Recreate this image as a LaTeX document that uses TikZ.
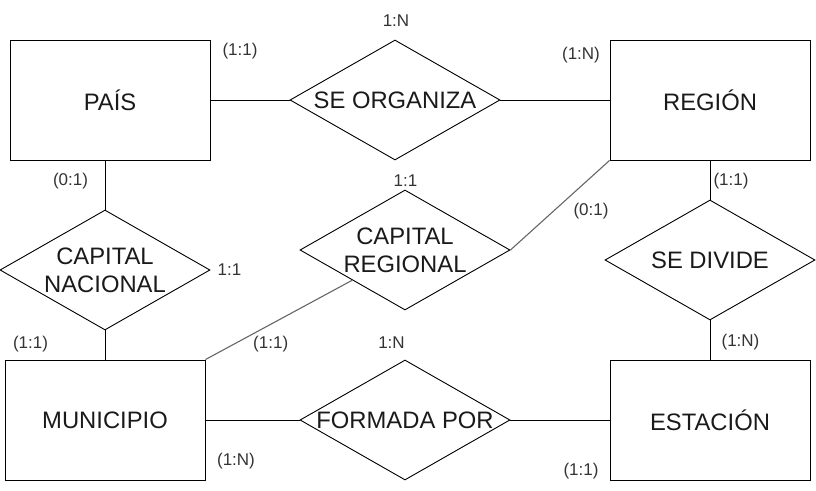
\documentclass[tikz,border=0pt]{standalone}
\usepackage{fontspec}
\setmainfont{Liberation Sans}
\usetikzlibrary{shapes.geometric}
\definecolor{cardgray}{HTML}{333333}
\definecolor{linkgray}{HTML}{666666}
\definecolor{namecol}{HTML}{1A1A1A}
\begin{document}
\begin{tikzpicture}[x=1pt,y=-1pt,
  entity/.style={draw=black, line width=0.9pt, minimum width=200pt, minimum height=120pt, inner sep=0pt, text=namecol, font=\fontsize{23.8}{28}\selectfont},
  relation/.style={draw=black, line width=0.9pt, diamond, aspect=1.75, minimum width=210pt, minimum height=120pt, inner sep=0pt, align=center, text=namecol, font=\fontsize{23.8}{28}\selectfont},
  card/.style={text=cardgray, inner sep=0pt, font=\fontsize{17}{20}\selectfont},
  link/.style={draw=black, line width=0.9pt},
  glink/.style={draw=linkgray, line width=1.1pt}]
\useasboundingbox (0,0) rectangle (816,490);
% entities
\node[entity] (pais) at (110,100) {PAÍS};
\node[entity] (region) at (710,100) {REGIÓN};
\node[entity] (muni) at (105,420) {MUNICIPIO};
\node[entity] (est) at (710,420) {ESTACIÓN};
% relations
\node[relation] (org) at (395,100) {SE ORGANIZA};
\node[relation] (cn) at (105,270) {CAPITAL\\NACIONAL};
\node[relation] (cr) at (405,250) {CAPITAL\\REGIONAL};
\node[relation] (div) at (710,260) {SE DIVIDE};
\node[relation] (form) at (405,420) {FORMADA POR};
% connectors
\draw[link] (pais.east) -- (org.west);
\draw[link] (org.east) -- (region.west);
\draw[link] (cn.north |- pais.south) -- (cn.north);
\draw[link] (cn.south) -- (cn.south |- muni.north);
\draw[link] (region.south) -- (div.north);
\draw[link] (div.south) -- (est.north);
\draw[link] (muni.east) -- (form.west);
\draw[link] (form.east) -- (est.west);
\draw[glink] (region.south west) -- (cr.east);
\draw[glink] (muni.north east) -- (cr.south west);
% cardinalities
\node[card] (c1) at (396,21) {1:N};
\node[card] (c2) at (240,51) {(1:1)};
\node[card] (c3) at (581,55) {(1:N)};
\node[card] (c4) at (70.5,181.5) {(0:1)};
\node[card] (c5) at (405.5,180.5) {1:1};
\node[card] (c6) at (591,211) {(0:1)};
\node[card] (c7) at (731,181.5) {(1:1)};
\node[card] (c8) at (229.5,270) {1:1};
\node[card] (c9) at (30.5,344) {(1:1)};
\node[card] (c10) at (270.7,344) {(1:1)};
\node[card] (c11) at (391.5,343) {1:N};
\node[card] (c12) at (740.5,342) {(1:N)};
\node[card] (c13) at (236,461) {(1:N)};
\node[card] (c14) at (581,471) {(1:1)};
\end{tikzpicture}
\end{document}
